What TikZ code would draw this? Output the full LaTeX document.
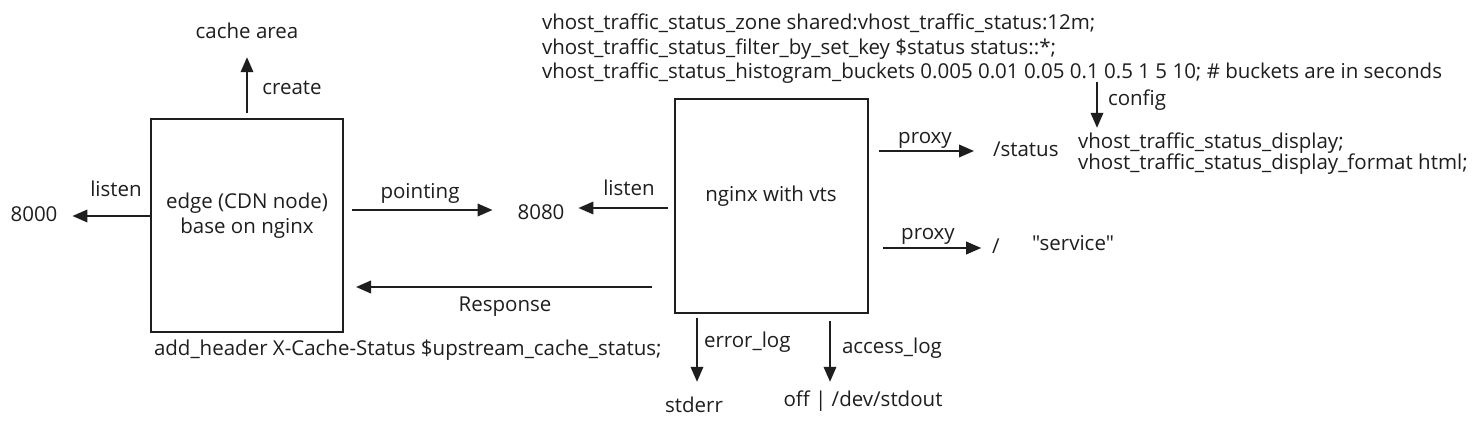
\documentclass[tikz,border=0pt]{standalone}
\usepackage{fontspec}
\setmainfont{Open Sans}[Ligatures=TeXOff]
\usetikzlibrary{arrows.meta,calc}
\definecolor{ink}{HTML}{1E1E1E}
\begin{document}
\begin{tikzpicture}[x=1pt,y=-1pt,
  txt/.style={inner sep=0pt,outer sep=0pt,text=ink,font=\fontsize{20.5pt}{25pt}\selectfont,text height=14.3pt,text depth=4.1pt},
  box/.style={draw=ink,line width=1.5pt,inner sep=0pt,outer sep=0pt,fill=white},
  arr/.style={draw=ink,line width=2pt,-{Triangle[length=15pt,width=12.5pt]}}]
\useasboundingbox[fill=white] (0,0) rectangle (1480,427);

% boxes
\node[box,minimum width=192pt,minimum height=213pt] (edge) at (247,225.5) {};
\node[box,minimum width=193pt,minimum height=214pt] (nginx) at (771.5,206) {};

% labels in boxes
\node[txt] (edge1) at (247,203) {edge (CDN node)};
\node[txt] (edge2) at (247,228) {base on nginx};
\node[txt] (nginxlbl) at (771,196) {nginx with vts};

% left side texts
\node[txt] (cache) at (247,33) {cache area};
\node[txt] (create) at (292,89) {create};
\node[txt] (listenL) at (116,191) {listen};
\node[txt] (n8000) at (34,216) {8000};
\node[txt] (pointing) at (420,193) {pointing};
\node[txt] (n8080) at (541,214) {8080};
\node[txt] (listenR) at (629,190) {listen};
\node[txt] (resplbl) at (505,306) {Response};
\node[txt,anchor=west] (addh) at (154,350) {add\_header X-Cache-Status \$upstream\_cache\_status;};

% top config
\node[txt,anchor=west] (top1) at (542,24) {vhost\_traffic\_status\_zone shared:vhost\_traffic\_status:12m;};
\node[txt,anchor=west] (top2) at (542,49) {vhost\_traffic\_status\_filter\_by\_set\_key \$status status::*;};
\node[txt,anchor=west] (top3) at (542,73) {vhost\_traffic\_status\_histogram\_buckets 0.005 0.01 0.05 0.1 0.5 1 5 10; \# buckets are in seconds};
\node[txt,anchor=west] (cfg) at (1108,100) {config};
\node[txt,anchor=west] (disp1) at (1078,143) {vhost\_traffic\_status\_display;};
\node[txt,anchor=west] (disp2) at (1078,164) {vhost\_traffic\_status\_display\_format html;};

% right side texts
\node[txt] (proxy1) at (925,138) {proxy};
\node[txt,anchor=west] (status) at (993,151) {/status};
\node[txt] (proxy2) at (928,234) {proxy};
\node[txt] (slash) at (996,248) {/};
\node[txt] (service) at (1073,245) {"service"};

% bottom texts
\node[txt,anchor=west] (errlbl) at (704,342) {error\_log};
\node[txt] (stderr) at (694,407) {stderr};
\node[txt,anchor=west] (acc) at (842,348) {access\_log};
\node[txt] (stdout) at (863,401) {off | /dev/stdout};

% connectors
\coordinate (resp) at (0,287);
\draw[arr,shorten <=6pt,shorten >=15pt] (edge.north) -- (cache.south);
\draw[arr,shorten >=15pt] (edge.west |- n8000) -- (n8000.east);
\draw[arr,shorten <=9pt,shorten >=25pt] ($(edge.east |- n8080)+(0,-4)$) -- ($(n8080.west)+(0,-4)$);
\draw[arr,shorten <=7pt,shorten >=14pt] ($(nginx.west |- n8080)+(0,-6)$) -- ($(n8080.east)+(0,-6)$);
\draw[arr,shorten <=23pt,shorten >=13pt] (nginx.west |- resp) -- (edge.east |- resp);
\draw[arr,shorten <=11pt,shorten >=19pt] (nginx.east |- status) -- (status.west);
\draw[arr,shorten <=15pt,shorten >=11pt] (nginx.east |- slash) -- (slash.west);
\draw[arr,shorten >=6pt] ($(top3.south -| cfg.west)+(-11,0)$) -- ($(disp1.north -| cfg.west)+(-11,0)$);
\draw[arr,shorten <=5pt,shorten >=16pt] ($(nginx.south -| stderr)+(3,0)$) -- ($(stderr.north)+(3,0)$);
\draw[arr,shorten <=8pt,shorten >=10pt] ($(nginx.south -| acc.west)+(-12,0)$) -- ($(stdout.north -| acc.west)+(-12,0)$);
\end{tikzpicture}
\end{document}
